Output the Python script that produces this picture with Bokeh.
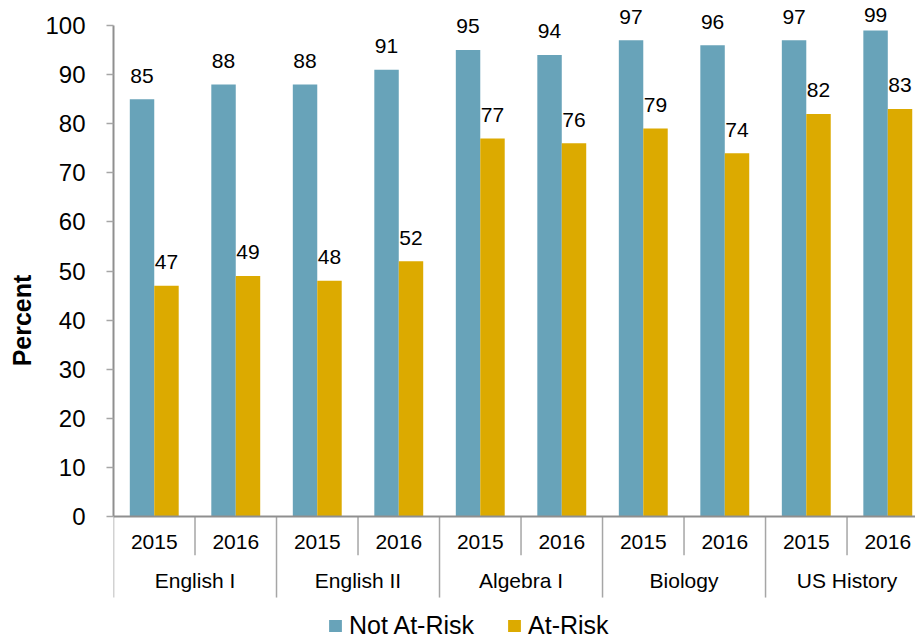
from bokeh.plotting import figure
from bokeh.models import Range1d, FixedTicker, ColumnDataSource, Legend, LegendItem, Span
from bokeh.core.properties import value
from bokeh.embed import file_html
from bokeh.resources import INLINE

subjects = ["English I", "English II", "Algebra I", "Biology", "US History"]
years = ["2015", "2016"]
not_at_risk = [85, 88, 88, 91, 95, 94, 97, 96, 97, 99]
at_risk = [47, 49, 48, 52, 77, 76, 79, 74, 82, 83]
series_names = ["Not At-Risk", "At-Risk"]
colors = ["#68a3b9", "#dcaa00"]
y_ticks = list(range(0, 101, 10))

FONT = "Liberation Sans"
n = len(subjects) * len(years)
slot_centers = [i + 0.5 for i in range(n)]
year_labels = [years[i % len(years)] for i in range(n)]

p = figure(width=915, height=640, output_backend="svg", toolbar_location=None,
           x_axis_location=None,
           x_range=Range1d(0, 9.84), y_range=Range1d(-25.25, 105.09),
           min_border_left=113, min_border_right=0, min_border_top=0, min_border_bottom=0)
p.outline_line_color = None
p.grid.visible = False
p.background_fill_color = "white"
p.border_fill_color = "white"

# y axis
ya = p.yaxis[0]
ya.ticker = FixedTicker(ticks=y_ticks)
ya.bounds = (0, 100)
ya.axis_line_color = "#8f8f8f"
ya.axis_line_width = 2
ya.major_tick_line_color = "#a6a6a6"
ya.major_tick_line_width = 1.5
ya.major_tick_out = 7
ya.major_tick_in = 0
ya.minor_tick_line_color = None
ya.major_label_standoff = 21
ya.major_label_text_font = FONT
ya.major_label_text_font_size = "24px"
ya.major_label_text_color = "black"
ya.axis_label = "Percent"
ya.axis_label_text_font = FONT
ya.axis_label_text_font_size = "25px"
ya.axis_label_text_font_style = "bold"
ya.axis_label_text_color = "black"
ya.axis_label_standoff = 6

# x axis line at zero
p.add_layout(Span(location=0, dimension="width", line_color="#8f8f8f", line_width=2))

# bars
x_nr = [c - 0.15 for c in slot_centers]
x_ar = [c + 0.15 for c in slot_centers]
src_nr = ColumnDataSource(dict(x=x_nr, top=not_at_risk, lab=[str(v) for v in not_at_risk],
                               ly=[min(v + 4.8, 102.2) for v in not_at_risk]))
src_ar = ColumnDataSource(dict(x=x_ar, top=at_risk, lab=[str(v) for v in at_risk],
                               ly=[min(v + 4.8, 102.2) for v in at_risk]))
r1 = p.vbar(x="x", top="top", bottom=0, width=0.3, source=src_nr, fill_color=colors[0], line_color=None)
r2 = p.vbar(x="x", top="top", bottom=0, width=0.3, source=src_ar, fill_color=colors[1], line_color=None)

for src in (src_nr, src_ar):
    p.text(x="x", y="ly", text="lab", source=src, text_align="center", text_baseline="alphabetic",
           text_font=value(FONT), text_font_size="21px", text_color="black")

# category separators
sep_x = list(range(0, n + 1))
sep_bottom = [-16.5 if i % len(years) == 0 else -7.9 for i in sep_x]
p.segment(x0=sep_x, y0=[0] * len(sep_x), x1=sep_x, y1=sep_bottom, line_color="#a6a6a6", line_width=1.5)

# category labels
p.text(x=slot_centers, y=[-5.2] * n, text=year_labels, text_align="center", text_baseline="alphabetic",
       text_font=value(FONT), text_font_size="21px", text_color="black")
group_centers = [len(years) * (g + 0.5) for g in range(len(subjects))]
p.text(x=group_centers, y=[-13.0] * len(subjects), text=subjects, text_align="center",
       text_baseline="alphabetic", text_font=value(FONT), text_font_size="21px", text_color="black")

legend = Legend(items=[LegendItem(label=series_names[0], renderers=[r1]),
                       LegendItem(label=series_names[1], renderers=[r2])],
                orientation="horizontal", location=(214, 0))
legend.padding = 0
legend.margin = 0
legend.border_line_color = None
legend.background_fill_alpha = 0
legend.glyph_width = 16
legend.glyph_height = 15
legend.label_standoff = 6
legend.spacing = 32
legend.label_text_font = FONT
legend.label_text_font_size = "25px"
legend.label_text_color = "black"
p.add_layout(legend)

open("out.html", "w").write(file_html(p, INLINE))
